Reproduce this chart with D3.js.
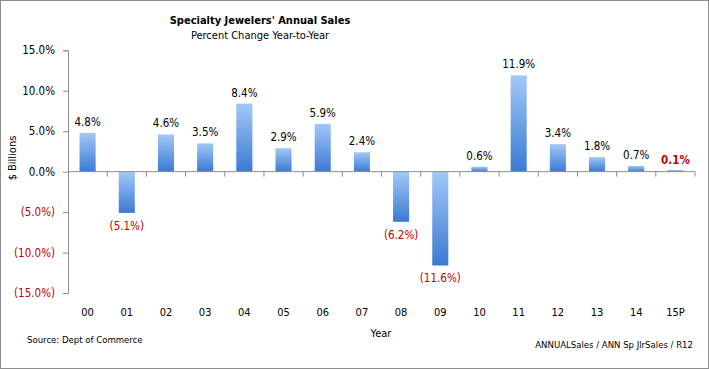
<!DOCTYPE html>
<html>
<head>
<meta charset="utf-8">
<script src="https://cdn.jsdelivr.net/npm/d3@7"></script>
<style>
  body { margin: 0; background: #fff; }
  svg text { font-family: "DejaVu Sans Condensed", "Liberation Sans", sans-serif; }
</style>
</head>
<body>
<div class="chart-output"></div>
<script>
var years = ["00", "01", "02", "03", "04", "05", "06", "07", "08", "09", "10", "11", "12", "13", "14", "15P"];
var pctChange = [4.8, -5.1, 4.6, 3.5, 8.4, 2.9, 5.9, 2.4, -6.2, -11.6, 0.6, 11.9, 3.4, 1.8, 0.7, 0.1];
var yTicks = [-15, -10, -5, 0, 5, 10, 15];

var w = 709, h = 369;
var red = "#c00000";

function fmt(v) {
    var s = Math.abs(v).toFixed(1) + "%";
    return v < 0 ? "(" + s + ")" : s;
}

var svg = d3.select(".chart-output")
            .append("svg")
            .attr("width", w)
            .attr("height", h);

// outer frame
svg.append("rect")
    .attr("x", 0.5).attr("y", 0.5)
    .attr("width", w - 1).attr("height", h - 1)
    .attr("fill", "#fff").attr("stroke", "#8c8c8c");

var defs = svg.append("defs");
var grad = defs.append("linearGradient")
    .attr("id", "barGrad").attr("x1", 0).attr("y1", 0).attr("x2", 0).attr("y2", 1);
grad.append("stop").attr("offset", "0%").attr("stop-color", "#a3c8f7");
grad.append("stop").attr("offset", "100%").attr("stop-color", "#3a7ad3");

var x = d3.scaleBand()
    .domain(years)
    .range([68, 695])
    .paddingInner(0.59)
    .paddingOuter(0.295);

var y = d3.scaleLinear()
    .domain([-15, 15])
    .range([293, 50.3]);

// y axis
var yAxis = svg.append("g")
    .attr("transform", "translate(68,0)")
    .call(d3.axisLeft(y).tickValues(yTicks).tickSize(5).tickFormat(function(d) {
        return d < 0 ? "(" + Math.abs(d).toFixed(1) + "%)" : d.toFixed(1) + "%";
    }));
yAxis.select(".domain").attr("stroke", "#8c8c8c");
yAxis.selectAll(".tick line").attr("stroke", "#8c8c8c");
yAxis.selectAll(".tick text")
    .attr("x", -13)
    .attr("font-size", 11.5)
    .attr("font-family", "Liberation Sans, Arial, sans-serif")
    .attr("fill", function(d) { return d < 0 ? red : "#000"; });

// bars (tiny values kept visible like the original)
svg.selectAll("rect.bar")
    .data(pctChange)
    .enter()
    .append("rect")
    .attr("class", "bar")
    .attr("x", function(d, i) { return x(years[i]); })
    .attr("y", function(d) {
        var hh = Math.max(1.6, Math.abs(y(d) - y(0)));
        return d >= 0 ? y(0) - hh : y(0);
    })
    .attr("width", x.bandwidth())
    .attr("height", function(d) { return Math.max(1.6, Math.abs(y(d) - y(0))); })
    .attr("fill", "url(#barGrad)");

// zero line with category ticks
var step = x.step();
var zeroY = y(0);
svg.append("line")
    .attr("x1", 68).attr("x2", 695)
    .attr("y1", zeroY).attr("y2", zeroY)
    .attr("stroke", "#8c8c8c");
svg.selectAll("line.cat-tick")
    .data(years)
    .enter()
    .append("line")
    .attr("class", "cat-tick")
    .attr("x1", function(d) { return x(d) + x.bandwidth() / 2 + step / 2; })
    .attr("x2", function(d) { return x(d) + x.bandwidth() / 2 + step / 2; })
    .attr("y1", zeroY).attr("y2", zeroY + 5)
    .attr("stroke", "#8c8c8c");

// value labels
svg.selectAll("text.val")
    .data(pctChange)
    .enter()
    .append("text")
    .attr("class", "val")
    .attr("x", function(d, i) { return x(years[i]) + x.bandwidth() / 2; })
    .attr("y", function(d) { return d < 0 ? y(d) + 17 : y(d) - 7; })
    .attr("text-anchor", "middle")
    .attr("font-size", 11.5)
    .attr("font-family", "Liberation Sans, Arial, sans-serif")
    .attr("font-weight", function(d, i) { return i === pctChange.length - 1 ? "bold" : "normal"; })
    .attr("fill", function(d, i) { return (d < 0 || i === pctChange.length - 1) ? red : "#000"; })
    .text(fmt);

// x tick labels
svg.selectAll("text.year")
    .data(years)
    .enter()
    .append("text")
    .attr("class", "year")
    .attr("x", function(d) { return x(d) + x.bandwidth() / 2; })
    .attr("y", 316)
    .attr("text-anchor", "middle")
    .attr("font-size", 11)
    .text(function(d) { return d; });

// titles
svg.append("text")
    .attr("x", 260).attr("y", 24)
    .attr("text-anchor", "middle")
    .attr("font-size", 11).attr("font-weight", "bold")
    .text("Specialty Jewelers' Annual Sales");
svg.append("text")
    .attr("x", 260).attr("y", 39)
    .attr("text-anchor", "middle")
    .attr("font-size", 11)
    .text("Percent Change Year-to-Year");

svg.append("text")
    .attr("transform", "translate(16,158) rotate(-90)")
    .attr("text-anchor", "middle")
    .attr("font-size", 11)
    .text("$ Billions");

svg.append("text")
    .attr("x", 381).attr("y", 337)
    .attr("text-anchor", "middle")
    .attr("font-size", 11)
    .text("Year");

svg.append("text")
    .attr("x", 27).attr("y", 343)
    .attr("font-size", 9.5)
    .text("Source:  Dept of Commerce");

svg.append("text")
    .attr("x", 693).attr("y", 348)
    .attr("text-anchor", "end")
    .attr("font-size", 9.5)
    .text("ANNUALSales / ANN Sp JlrSales / R12");
</script>
</body>
</html>
